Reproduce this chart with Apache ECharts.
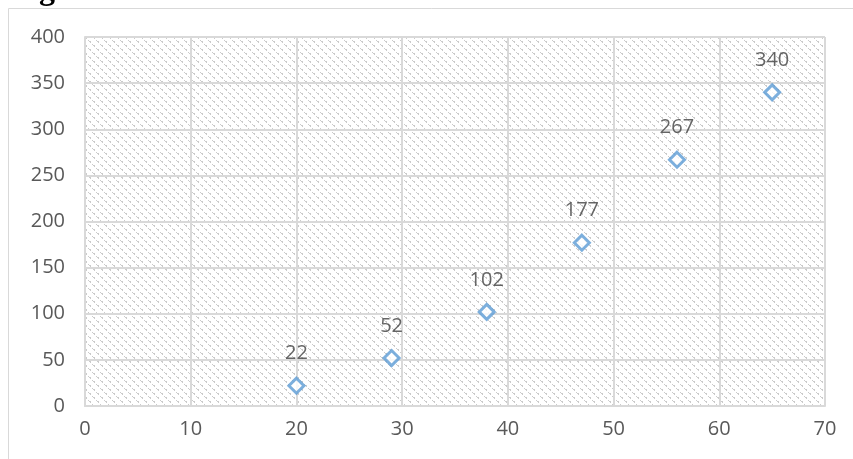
<!DOCTYPE html>
<html>
<head>
<meta charset="utf-8">
<script src="https://cdn.jsdelivr.net/npm/echarts@6/dist/echarts.min.js"></script>
<style>
  html, body { margin: 0; padding: 0; background: #ffffff; }
  #chart { width: 853px; height: 459px; }
</style>
</head>
<body>
<div id="chart"></div>
<script>
// Measured points: x (independent variable) and y (response)
const xValues = [20, 29, 38, 47, 56, 65];
const yValues = [22, 52, 102, 177, 267, 340];
const titleText = 'Cg %';

// Small tiled hatch used to fill the plotting area
function makeHatch() {
  const c = document.createElement('canvas');
  c.width = 8; c.height = 8;
  const ctx = c.getContext('2d');
  ctx.fillStyle = '#ffffff';
  ctx.fillRect(0, 0, 8, 8);
  ctx.fillStyle = '#cbcbcb';
  for (let y = 0; y < 8; y++) {
    for (let x = 0; x < 8; x++) {
      const d = ((x - y) % 8 + 8) % 8;
      const on = (d === 0 && (x % 4) < 3) || (d === 1 && (x % 4) === 2);
      if (on) ctx.fillRect(x, y, 1, 1);
    }
  }
  return c;
}

const points = xValues.map((x, i) => [x, yValues[i]]);
const chart = echarts.init(document.getElementById('chart'), null, { renderer: 'canvas' });
const labelFont = '"Open Sans", "Noto Sans", sans-serif';

chart.setOption({
  animation: false,
  graphic: [
    {
      type: 'rect',
      shape: { x: 8.5, y: 8.5, width: 900, height: 500 },
      style: { fill: 'none', stroke: '#d9d9d9', lineWidth: 1 },
      silent: true
    },
    {
      type: 'text',
      left: 16, top: -25,
      style: {
        text: titleText,
        font: 'bold 32px "Liberation Serif", serif',
        fill: '#000000'
      },
      silent: true
    }
  ],
  grid: {
    left: 85, right: 28, top: 37, bottom: 53,
    show: true,
    borderWidth: 0,
    backgroundColor: { image: makeHatch(), repeat: 'repeat' }
  },
  xAxis: {
    type: 'value', min: 0, max: 70, interval: 10,
    axisLine: { show: true, lineStyle: { color: '#d9d9d9', width: 2 } },
    axisTick: { show: false },
    splitLine: { show: true, lineStyle: { color: '#d9d9d9', width: 2 } },
    axisLabel: { color: '#595959', fontSize: 20, fontFamily: labelFont, margin: 13 }
  },
  yAxis: {
    type: 'value', min: 0, max: 400, interval: 50,
    axisLine: { show: true, lineStyle: { color: '#d9d9d9', width: 2 } },
    axisTick: { show: false },
    splitLine: { show: true, lineStyle: { color: '#d9d9d9', width: 2 } },
    axisLabel: { color: '#595959', fontSize: 20, fontFamily: labelFont, margin: 20 }
  },
  series: [{
    type: 'scatter',
    data: points,
    symbol: 'diamond',
    symbolSize: 15,
    itemStyle: { color: '#ffffff', borderColor: '#5b9bd5', borderWidth: 3 },
    label: {
      show: true,
      position: 'top',
      distance: 13,
      color: '#404040',
      fontSize: 20,
      fontFamily: labelFont,
      formatter: p => String(p.value[1])
    }
  }]
});
</script>
</body>
</html>
